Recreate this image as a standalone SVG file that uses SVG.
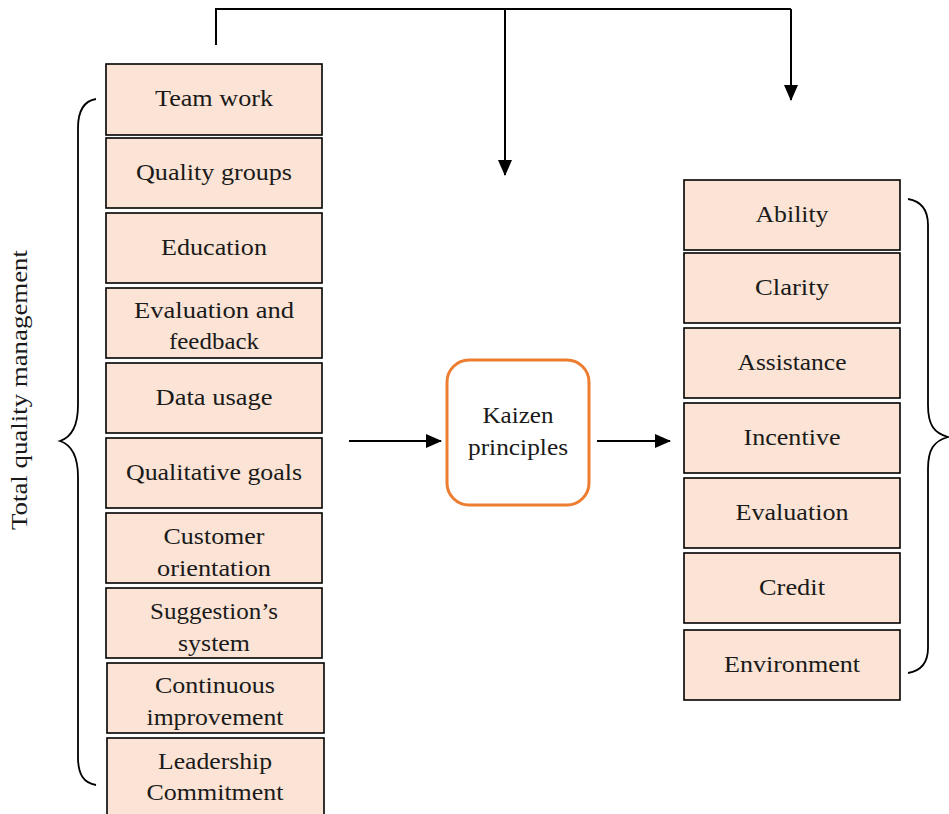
<svg xmlns="http://www.w3.org/2000/svg" width="949" height="814" viewBox="0 0 949 814">
<style>
.box{fill:#FBE4D5;stroke:#000;stroke-width:1.6}
.t{font-family:"Liberation Serif","Times New Roman",serif;font-size:24px;fill:#1a1a1a;text-anchor:middle}
.ln{fill:none;stroke:#000;stroke-width:2}
.br{fill:none;stroke:#000;stroke-width:1.8}
</style>
<defs>
<marker id="ah" markerWidth="16" markerHeight="14" refX="15" refY="7" orient="auto" markerUnits="userSpaceOnUse">
<path d="M0,0 L16,7 L0,14 Z" fill="#000"/>
</marker>
<clipPath id="c8"><rect x="106" y="588" width="216" height="70"/></clipPath>
<clipPath id="c9"><rect x="107" y="663" width="217" height="70"/></clipPath>
<clipPath id="c10"><rect x="107" y="738" width="217" height="76"/></clipPath>
</defs>

<g id="connectors">
<path class="ln" d="M216,45 V9 H791"/>
<path class="ln" d="M505,9 V175" marker-end="url(#ah)"/>
<path class="ln" d="M791,9 V100" marker-end="url(#ah)"/>
<path class="ln" d="M349,441 H441" marker-end="url(#ah)"/>
<path class="ln" d="M597,441 H670" marker-end="url(#ah)"/>
</g>

<g id="left-brace">
<path class="br" d="M96,99 C84,101 78,110 78,128 V405 C78,425 72,437 60,441 C72,445 78,457 78,477 V757 C78,775 84,783 96,785"/>
<text class="t" transform="translate(27,390) rotate(-90)" textLength="280" lengthAdjust="spacingAndGlyphs">Total quality management</text>
</g>

<g id="right-brace">
<path class="br" d="M908,199 C920,201 928,208 928,225 V405 C928,425 934,433 948,437 C934,441 928,449 928,469 V648 C928,664 920,671 908,673"/>
</g>

<g id="team-work"><rect class="box" x="106" y="64" width="216" height="71"/><text class="t" x="214" y="106" textLength="118" lengthAdjust="spacingAndGlyphs">Team work</text></g>
<g id="quality-groups"><rect class="box" x="106" y="138" width="216" height="70"/><text class="t" x="214" y="180" textLength="156" lengthAdjust="spacingAndGlyphs">Quality groups</text></g>
<g id="education"><rect class="box" x="106" y="213" width="216" height="70"/><text class="t" x="214" y="255" textLength="106" lengthAdjust="spacingAndGlyphs">Education</text></g>
<g id="evaluation-feedback"><rect class="box" x="106" y="288" width="216" height="70"/><text class="t" x="214" y="318" textLength="160" lengthAdjust="spacingAndGlyphs">Evaluation and</text><text class="t" x="214" y="349" textLength="90" lengthAdjust="spacingAndGlyphs">feedback</text></g>
<g id="data-usage"><rect class="box" x="106" y="363" width="216" height="70"/><text class="t" x="214" y="405" textLength="117" lengthAdjust="spacingAndGlyphs">Data usage</text></g>
<g id="qualitative-goals"><rect class="box" x="106" y="438" width="216" height="70"/><text class="t" x="214" y="480" textLength="176" lengthAdjust="spacingAndGlyphs">Qualitative goals</text></g>
<g id="customer-orientation"><rect class="box" x="106" y="513" width="216" height="70"/><text class="t" x="214" y="544" textLength="101" lengthAdjust="spacingAndGlyphs">Customer</text><text class="t" x="214" y="576" textLength="114" lengthAdjust="spacingAndGlyphs">orientation</text></g>
<g id="suggestion-system"><rect class="box" x="106" y="588" width="216" height="70"/><g clip-path="url(#c8)"><text class="t" x="214" y="619" textLength="128" lengthAdjust="spacingAndGlyphs">Suggestion’s</text><text class="t" x="214" y="651" textLength="72" lengthAdjust="spacingAndGlyphs">system</text></g></g>
<g id="continuous-improvement"><rect class="box" x="107" y="663" width="217" height="70"/><g clip-path="url(#c9)"><text class="t" x="215" y="693" textLength="120" lengthAdjust="spacingAndGlyphs">Continuous</text><text class="t" x="215" y="725" textLength="137" lengthAdjust="spacingAndGlyphs">improvement</text></g></g>
<g id="leadership-commitment"><rect class="box" x="107" y="738" width="217" height="80"/><g clip-path="url(#c10)"><text class="t" x="215" y="769" textLength="114" lengthAdjust="spacingAndGlyphs">Leadership</text><text class="t" x="215" y="800" textLength="137" lengthAdjust="spacingAndGlyphs">Commitment</text></g></g>

<g id="kaizen"><rect x="447" y="360" width="142" height="145" rx="22" ry="22" fill="#fff" stroke="#ED7D31" stroke-width="3"/><text class="t" x="518" y="423" textLength="71" lengthAdjust="spacingAndGlyphs">Kaizen</text><text class="t" x="518" y="455" textLength="100" lengthAdjust="spacingAndGlyphs">principles</text></g>

<g id="ability"><rect class="box" x="684" y="180" width="216" height="70"/><text class="t" x="792" y="222" textLength="73" lengthAdjust="spacingAndGlyphs">Ability</text></g>
<g id="clarity"><rect class="box" x="684" y="253" width="216" height="70"/><text class="t" x="792" y="295" textLength="74" lengthAdjust="spacingAndGlyphs">Clarity</text></g>
<g id="assistance"><rect class="box" x="684" y="328" width="216" height="70"/><text class="t" x="792" y="370" textLength="109" lengthAdjust="spacingAndGlyphs">Assistance</text></g>
<g id="incentive"><rect class="box" x="684" y="403" width="216" height="70"/><text class="t" x="792" y="445" textLength="97" lengthAdjust="spacingAndGlyphs">Incentive</text></g>
<g id="evaluation"><rect class="box" x="684" y="478" width="216" height="70"/><text class="t" x="792" y="520" textLength="113" lengthAdjust="spacingAndGlyphs">Evaluation</text></g>
<g id="credit"><rect class="box" x="684" y="553" width="216" height="70"/><text class="t" x="792" y="595" textLength="66" lengthAdjust="spacingAndGlyphs">Credit</text></g>
<g id="environment"><rect class="box" x="684" y="630" width="216" height="70"/><text class="t" x="792" y="672" textLength="136" lengthAdjust="spacingAndGlyphs">Environment</text></g>
</svg>
